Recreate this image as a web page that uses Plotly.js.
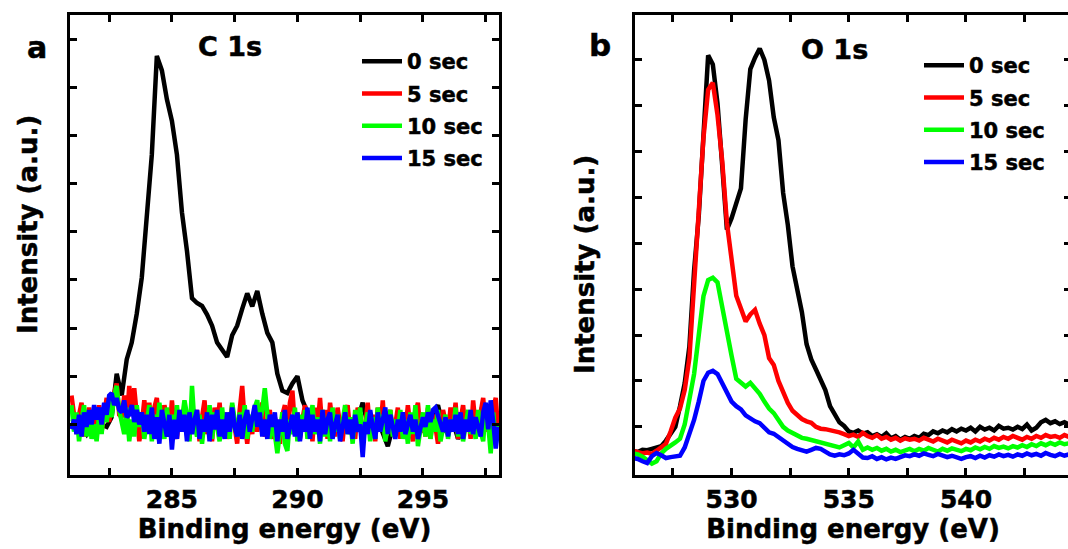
<!DOCTYPE html>
<html>
<head>
<meta charset="utf-8">
<script src="https://cdn.plot.ly/plotly-3.0.1.min.js"></script>
<style>
html,body{margin:0;padding:0;background:#fff;overflow:hidden;}
#plot{width:1076px;height:549px;}
#plot svg text{stroke:#000;stroke-width:0.5px;}
</style>
</head>
<body>
<div id="plot"></div>
<script>
// ---------- data ----------
const seriesNames = ["0 sec", "5 sec", "10 sec", "15 sec"];
const seriesColors = ["#000000", "#ff0000", "#00ff00", "#0000ff"];
const panelLabels = ["a", "b"];
const coreLevels = ["C 1s", "O 1s"];
const xTitle = "Binding energy (eV)";
const yTitle = "Intensity (a.u.)";
const yTickVals = [1, 2, 3, 4, 5, 6, 7, 8, 9];

// Panel a: C 1s. "0 sec" sampled 281.0 .. 298.0 eV every 0.2 eV (86 points)
const c1sStartCoarse = 281.0, c1sStepCoarse = 0.2, c1sCountCoarse = 86;
const c1s_0s = [
  1.05,1.10,0.95,0.80,1.00,0.85,1.00,0.95,1.15,2.05,
  1.60,2.35,2.70,3.30,4.05,5.40,6.60,8.65,8.35,7.75,
  7.30,6.60,5.40,4.60,3.62,3.52,3.46,3.28,3.05,2.70,
  2.55,2.40,2.85,3.05,3.40,3.72,3.45,3.77,3.30,2.90,
  2.70,2.05,1.70,1.65,1.85,2.00,1.50,1.25,1.00,1.10,
  0.95,1.05,0.85,1.15,0.90,1.00,0.80,1.10,1.45,1.00,
  0.75,1.10,0.85,0.55,0.95,1.10,0.80,1.00,0.90,1.15,
  0.85,1.05,1.20,1.40,0.95,0.80,1.05,0.70,0.95,1.10,
  0.85,1.00,1.45,0.90,1.10,0.95];
// "5/10/15 sec" sampled 281.0 .. 298.0 eV every 0.1 eV (171 points)
const c1sStartFine = 281.0, c1sStepFine = 0.1, c1sCountFine = 171;
const c1s_5s = [
  1.60,1.15,0.80,1.20,1.45,0.75,1.05,1.35,0.80,1.25,
  0.95,1.40,0.85,1.30,1.55,1.05,1.45,1.65,1.85,1.20,
  1.15,1.60,1.00,1.80,1.30,1.75,1.25,0.65,1.00,1.50,
  1.10,1.45,0.80,1.35,1.55,0.95,0.75,1.40,1.15,0.80,
  1.50,0.95,0.70,1.30,0.85,1.40,1.10,0.70,1.45,0.95,
  1.30,0.65,1.15,1.50,0.80,1.10,0.65,1.35,0.95,1.45,
  0.75,1.25,0.70,1.05,1.40,0.95,0.60,1.30,1.80,1.05,
  0.60,1.10,0.80,1.35,0.85,1.20,1.45,0.75,1.00,1.30,
  0.70,1.15,0.90,0.60,1.20,1.40,0.80,1.45,1.70,0.95,
  1.25,0.70,1.10,1.40,0.80,1.20,0.65,1.35,0.95,1.55,
  0.85,1.30,0.70,1.45,1.05,0.75,1.35,0.95,0.65,1.20,
  1.40,0.85,1.15,0.70,1.35,1.10,0.60,1.00,1.45,0.80,
  1.20,0.65,1.35,0.85,1.50,0.70,1.10,1.30,0.80,1.00,
  1.35,0.70,1.20,0.85,1.40,0.95,0.65,1.25,1.45,0.85,
  1.10,0.75,1.35,0.70,1.20,0.95,0.60,0.90,1.30,1.05,
  0.80,1.35,0.95,1.45,0.70,1.10,1.40,0.85,1.20,0.70,
  1.50,0.95,0.80,1.25,1.55,0.85,1.10,0.70,1.35,1.55,
  0.85];
const c1s_10s = [
  1.40,0.85,1.25,0.65,1.10,1.40,0.75,1.20,0.70,1.00,
  0.65,1.20,0.80,1.35,1.05,1.50,1.15,1.60,1.80,1.30,
  1.05,0.80,1.35,0.65,1.10,0.75,1.40,0.95,1.25,0.70,
  1.05,1.40,0.65,1.20,0.75,1.45,1.05,0.70,1.35,0.85,
  1.20,0.70,1.40,0.85,1.10,1.50,1.20,0.65,1.80,1.00,
  0.75,1.20,0.60,1.10,0.85,1.40,0.70,1.25,0.95,0.65,
  1.35,0.85,1.20,0.70,1.45,1.05,0.75,1.25,0.95,1.40,
  0.70,1.20,0.85,1.35,1.50,1.00,1.30,1.75,1.10,0.70,
  1.00,0.80,0.40,0.90,1.25,0.60,0.45,1.10,0.80,1.35,
  0.65,1.20,0.85,1.30,0.70,1.00,1.40,0.80,1.15,0.60,
  1.30,0.75,1.10,0.65,1.35,0.85,1.20,0.70,1.00,1.40,
  0.80,1.15,0.60,1.30,0.85,1.35,0.70,1.00,1.25,0.65,
  1.15,0.70,1.35,0.85,1.20,0.65,1.00,1.30,0.75,1.10,
  0.85,1.30,0.70,1.10,0.60,1.25,0.80,1.40,0.55,1.00,
  1.25,0.75,1.40,0.70,1.10,0.85,1.30,0.65,1.00,1.20,
  0.70,1.10,0.85,1.35,0.75,1.20,0.65,1.00,1.30,0.80,
  1.10,0.70,1.30,0.85,0.65,1.35,1.00,0.40,1.25,0.60,
  1.00];
const c1s_15s = [
  0.90,1.10,0.80,1.20,0.75,1.25,0.95,1.30,1.00,1.40,
  1.10,1.35,1.00,1.45,1.20,1.60,1.65,1.40,1.55,1.30,
  1.25,1.50,1.15,1.20,1.40,1.05,1.30,1.00,1.25,0.85,
  1.20,0.80,1.35,0.70,1.15,0.60,1.30,0.95,0.75,1.20,
  0.48,1.10,0.70,1.30,0.85,1.20,0.65,1.25,0.80,1.10,
  1.30,0.70,1.10,0.85,1.25,0.65,1.20,0.90,1.30,0.75,
  1.10,0.70,1.25,0.85,1.35,0.95,0.75,1.20,0.70,1.10,
  1.30,0.85,1.15,1.40,0.95,1.25,0.75,1.10,0.70,1.20,
  0.95,1.25,0.65,1.10,0.85,1.30,0.70,1.00,1.20,0.75,
  1.25,0.65,1.10,0.85,1.35,0.70,1.20,0.85,1.10,0.65,
  1.30,0.80,1.10,1.25,0.70,1.00,1.20,0.65,0.90,1.25,
  0.80,1.10,0.70,1.20,0.85,1.00,0.32,1.05,0.80,1.30,
  0.95,0.70,1.25,0.85,1.10,1.35,0.80,1.20,0.95,0.70,
  1.10,0.85,1.25,0.80,1.00,1.20,0.85,1.10,0.70,0.95,
  1.15,0.95,1.25,1.05,1.30,1.35,1.20,1.05,0.85,1.15,
  0.75,1.10,0.85,1.20,0.80,1.25,0.70,1.10,0.85,1.30,
  0.80,1.15,0.95,0.75,1.25,1.45,0.90,1.50,1.05,0.50,
  0.95];

// Panel b: O 1s, energies 525.8 .. 544.4 eV in 0.2 eV steps (94 points)
const o1sStart = 525.8, o1sStep = 0.2, o1sCount = 94;
const o1s_0s = [
  0.47,0.45,0.50,0.49,0.52,0.55,0.58,0.70,0.87,1.00,
  1.45,1.95,2.75,4.40,5.60,7.30,9.10,8.90,8.05,6.70,
  5.30,5.55,5.85,6.20,7.70,8.80,9.05,9.25,9.00,8.55,
  7.75,7.25,6.10,5.40,4.50,3.95,3.50,2.80,2.47,2.25,
  2.05,1.80,1.45,1.28,1.10,1.02,0.90,0.87,0.92,0.85,
  0.88,0.80,0.84,0.78,0.86,0.75,0.80,0.72,0.78,0.74,
  0.80,0.76,0.85,0.82,0.90,0.86,0.92,0.88,0.95,0.90,
  0.96,0.92,0.98,0.90,1.00,0.94,0.98,0.92,1.02,0.96,
  0.98,0.94,1.00,0.95,1.05,0.92,0.98,1.10,1.15,1.08,
  1.12,1.06,1.10,1.05];
const o1s_5s = [
  0.48,0.45,0.42,0.44,0.41,0.48,0.55,0.63,0.90,1.20,
  1.40,1.80,2.50,4.15,5.80,7.30,8.35,8.50,7.80,6.80,
  5.45,4.55,3.86,3.58,3.30,3.45,3.55,3.25,3.00,2.50,
  2.35,2.00,1.75,1.52,1.35,1.25,1.17,1.12,1.09,1.00,
  0.96,0.95,0.93,0.91,0.88,0.84,0.80,0.83,0.78,0.87,
  0.80,0.76,0.82,0.74,0.78,0.72,0.76,0.70,0.75,0.72,
  0.74,0.70,0.76,0.72,0.68,0.74,0.70,0.66,0.72,0.68,
  0.64,0.70,0.66,0.72,0.68,0.74,0.70,0.76,0.72,0.78,
  0.74,0.80,0.76,0.72,0.78,0.74,0.80,0.76,0.82,0.78,
  0.80,0.76,0.82,0.78];
const o1s_10s = [
  0.42,0.40,0.35,0.28,0.20,0.25,0.42,0.52,0.58,0.66,
  0.74,1.05,1.60,2.15,3.00,3.85,4.20,4.25,4.15,3.58,
  3.00,2.55,2.05,1.95,1.88,1.96,1.85,1.72,1.55,1.40,
  1.30,1.15,1.00,0.92,0.87,0.82,0.76,0.74,0.71,0.69,
  0.66,0.63,0.60,0.58,0.55,0.60,0.65,0.55,0.68,0.50,
  0.55,0.50,0.54,0.48,0.52,0.46,0.50,0.45,0.48,0.52,
  0.47,0.52,0.48,0.54,0.50,0.46,0.52,0.48,0.53,0.50,
  0.47,0.52,0.49,0.55,0.51,0.56,0.52,0.58,0.54,0.57,
  0.53,0.58,0.55,0.60,0.56,0.62,0.58,0.64,0.60,0.65,
  0.61,0.66,0.62,0.64];
const o1s_15s = [
  0.32,0.30,0.25,0.21,0.36,0.43,0.38,0.32,0.34,0.36,
  0.37,0.55,0.85,1.15,1.55,2.00,2.18,2.22,2.15,1.95,
  1.78,1.55,1.45,1.38,1.25,1.17,1.12,1.08,0.98,0.88,
  0.85,0.78,0.72,0.65,0.56,0.52,0.48,0.46,0.50,0.54,
  0.52,0.45,0.40,0.37,0.40,0.38,0.42,0.50,0.40,0.33,
  0.32,0.36,0.30,0.34,0.29,0.33,0.30,0.35,0.38,0.36,
  0.40,0.37,0.42,0.39,0.36,0.41,0.38,0.34,0.37,0.33,
  0.30,0.34,0.36,0.32,0.37,0.33,0.38,0.35,0.40,0.36,
  0.39,0.35,0.40,0.37,0.42,0.38,0.41,0.37,0.43,0.39,
  0.36,0.41,0.37,0.40];

// ---------- build ----------
function energyGrid(start, step, n) {
  const out = [];
  for (let i = 0; i < n; i++) out.push(Math.round((start + i * step) * 100) / 100);
  return out;
}
const energyCoarseA = energyGrid(c1sStartCoarse, c1sStepCoarse, c1sCountCoarse);
const energyFineA = energyGrid(c1sStartFine, c1sStepFine, c1sCountFine);
const energyB = energyGrid(o1sStart, o1sStep, o1sCount);
const panelA = [[energyCoarseA, c1s_0s], [energyFineA, c1s_5s], [energyFineA, c1s_10s], [energyFineA, c1s_15s]];
const panelB = [o1s_0s, o1s_5s, o1s_10s, o1s_15s];

const W = 1076, H = 549;
const px = v => v / W;
const py = v => 1 - v / H;
const FONT = "DejaVu Sans, Liberation Sans, Arial, sans-serif";
const bold = (size) => ({family: FONT, size: size, color: "#000", weight: "bold"});

const traces = [];
seriesNames.forEach((name, i) => {
  traces.push({
    x: panelA[i][0], y: panelA[i][1], type: "scatter", mode: "lines", name: name,
    line: {color: seriesColors[i], width: 4.5}, xaxis: "x", yaxis: "y",
    legend: "legend", legendgroup: "a" + i
  });
});
seriesNames.forEach((name, i) => {
  traces.push({
    x: energyB, y: panelB[i], type: "scatter", mode: "lines", name: name,
    line: {color: seriesColors[i], width: 4.5}, xaxis: "x2", yaxis: "y2",
    legend: "legend2", legendgroup: "b" + i
  });
});

function xAxis(domain, range, anchor) {
  return {
    domain: domain, range: range, anchor: anchor,
    showline: true, linewidth: 3, linecolor: "#000", mirror: "ticks",
    ticks: "inside", ticklen: 7, tickwidth: 3, tickcolor: "#000",
    tick0: 0, dtick: 5,
    minor: {dtick: 2.5, ticks: "inside", ticklen: 7, tickwidth: 3, tickcolor: "#000", showgrid: false},
    showgrid: false, zeroline: false,
    tickfont: bold(25),
    title: {text: xTitle, font: bold(26), standoff: 4}
  };
}
function yAxis(range, anchor) {
  return {
    domain: [py(475), py(15)], range: range, anchor: anchor,
    showline: true, linewidth: 3, linecolor: "#000", mirror: "ticks",
    ticks: "inside", ticklen: 7, tickwidth: 3, tickcolor: "#000",
    tickmode: "array", tickvals: yTickVals, showticklabels: false,
    showgrid: false, zeroline: false
  };
}
function note(text, x, y, size, angle) {
  return {text: text, x: px(x), y: py(y), xref: "paper", yref: "paper", showarrow: false,
          xanchor: "center", yanchor: "middle", textangle: angle || 0, font: bold(size)};
}

const layout = {
  width: W, height: H,
  margin: {l: 0, r: 0, t: 0, b: 0},
  paper_bgcolor: "#fff", plot_bgcolor: "#fff",
  showlegend: true,
  xaxis: xAxis([px(70), px(499)], [280.94, 298.03], "y"),
  yaxis: yAxis([-0.05, 9.5], "x"),
  xaxis2: xAxis([px(635), px(1071)], [525.88, 544.48], "y2"),
  yaxis2: yAxis([-0.05, 9.98], "x2"),
  legend: {x: px(357), y: py(41), xanchor: "left", yanchor: "top", bgcolor: "rgba(0,0,0,0)",
           font: bold(21), tracegroupgap: 2, itemwidth: 40},
  legend2: {x: px(919), y: py(45), xanchor: "left", yanchor: "top", bgcolor: "rgba(0,0,0,0)",
            font: bold(21), tracegroupgap: 2, itemwidth: 40},
  annotations: [
    note(panelLabels[0], 37, 48, 30),
    note(panelLabels[1], 600, 45, 31),
    note(coreLevels[0], 230, 46, 27),
    note(coreLevels[1], 834, 49, 27),
    note(yTitle, 28, 225, 26, -90),
    note(yTitle, 585, 264, 26, -90)
  ]
};

Plotly.newPlot("plot", traces, layout, {displayModeBar: false, staticPlot: true});
</script>
</body>
</html>
